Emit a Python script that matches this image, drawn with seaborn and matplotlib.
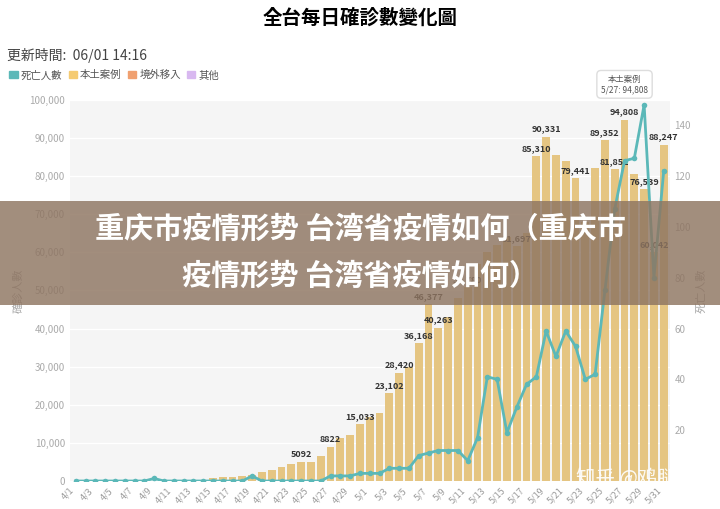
import matplotlib.pyplot as plt
import seaborn as sns
import pandas as pd
from matplotlib import font_manager
from matplotlib.patches import Patch, Rectangle

cjk = [f.name for f in font_manager.fontManager.ttflist if 'CJK' in f.name and 'Sans' in f.name]
tc = next((n for n in cjk if 'TC' in n), cjk[0] if cjk else 'DejaVu Sans')
sc = next((n for n in cjk if 'SC' in n), tc)
plt.rcParams['font.family'] = [tc, 'DejaVu Sans']

# --- data ---
dates = [f'4/{d}' for d in range(1, 31)] + [f'5/{d}' for d in range(1, 32)]
local_cases = [
    50, 60, 70, 80, 90, 100, 110, 120, 130, 150, 180, 200, 250, 350, 900,
    1000, 1100, 1200, 1500, 2300, 2900, 3600, 4500, 5092, 5100, 6500, 8822, 11300, 12000, 15033,
    16800, 17900, 23102, 28420, 30000, 36168, 46377, 40263, 43000, 48000, 50780,
    57000, 60000, 62000, 64000, 61697, 65000, 85310, 90331, 85500, 84000, 79441,
    68000, 82000, 89352, 81852, 94808, 80500, 76539, 60042, 88247,
]
deaths = [
    0, 0, 0, 0, 0, 0, 0, 0, 1, 0, 0, 0, 0, 0, 0,
    0, 0, 0, 2, 0, 0, 0, 0, 0, 0, 0, 2, 2, 2, 3,
    3, 3, 5, 5, 5, 10, 11, 12, 12, 12, 8,
    17, 41, 40, 19, 29, 38, 41, 59, 49, 59, 53,
    40, 42, 75, 107, 126, 127, 148, 80, 122,
]
labelled = {'4/24': 5092, '4/27': 8822, '4/30': 15033, '5/3': 23102, '5/4': 28420,
            '5/6': 36168, '5/7': 46377, '5/8': 40263, '5/11': 50780, '5/16': 61697,
            '5/18': 85310, '5/19': 90331, '5/22': 79441, '5/25': 89352, '5/26': 81852,
            '5/27': 94808, '5/29': 76539, '5/30': 60042, '5/31': 88247}

df = pd.DataFrame({'date': dates, 'local': local_cases, 'deaths': deaths})
df['x'] = range(len(df))

BAR = '#F5CB72'
LINE = '#5BB8B8'

fig = plt.figure(figsize=(7.2, 5.09), dpi=100)
ax = fig.add_axes([0.097, 0.055, 0.833, 0.749])
ax.set_facecolor('#F5F5F5')
sns.barplot(data=df, x='x', y='local', color=BAR, width=0.8, ax=ax, zorder=2)
ax.set_ylim(0, 100000)
ax.set_xlim(-0.6, len(df) - 0.4)
ax.set_yticks(range(0, 100001, 10000))
ax.set_yticklabels([f'{v:,}' for v in range(0, 100001, 10000)], color='#AAAAAA', fontsize=7)
ax.grid(axis='y', color='white', lw=1, zorder=1)
ax.set_xticks(df['x'][::2])
ax.set_xticklabels(df['date'][::2], rotation=45, ha='right', fontsize=6.5, color='#999999')
ax.set_xlabel('')
ax.set_ylabel('確診人數', color='#AAAAAA', fontsize=8)
for s in ax.spines.values():
    s.set_visible(False)
ax.tick_params(length=0)
for d, v in labelled.items():
    i = dates.index(d)
    ax.text(i, v + 800, f'{v:,}' if v >= 10000 else str(v), ha='center', va='bottom',
            fontsize=6.5, fontweight='bold', color='#333333', zorder=5)

ax2 = ax.twinx()
sns.lineplot(data=df, x='x', y='deaths', color=LINE, lw=2, marker='o', markersize=4,
             markeredgewidth=0, ax=ax2, zorder=4)
ax2.set_ylim(0, 150)
ax2.set_yticks(range(20, 141, 20))
ax2.set_yticklabels(range(20, 141, 20), color='#AAAAAA', fontsize=7)
ax2.set_ylabel('死亡人數', color='#AAAAAA', fontsize=8)
ax2.tick_params(length=0)
for s in ax2.spines.values():
    s.set_visible(False)

# tooltip
ax.text(56, 101500, '本土案例\n5/27: 94,808', ha='center', va='bottom', fontsize=6,
        color='#555555', bbox=dict(boxstyle='round,pad=0.5', fc='white', ec='#DDDDDD'),
        clip_on=False, zorder=6)

fig.text(0.5, 0.965, '全台每日確診數變化圖', ha='center', va='center', fontsize=14, fontweight='bold')
fig.text(0.01, 0.89, '更新時間:  06/01 14:16', ha='left', va='center', fontsize=10, color='#444444')
handles = [Patch(color=LINE, label='死亡人數'), Patch(color=BAR, label='本土案例'),
           Patch(color='#F0A070', label='境外移入'), Patch(color='#D8B8F0', label='其他')]
fig.legend(handles=handles, loc='center left', bbox_to_anchor=(0.0, 0.852), ncol=4, frameon=False,
           fontsize=7.5, handlelength=0.8, handletextpad=0.3, columnspacing=0.6, labelcolor='#555555')

# overlay banner
fig.patches.append(Rectangle((0, 0.40), 1, 0.205, transform=fig.transFigure,
                             facecolor='#8E7561', alpha=0.82, zorder=10))
fig.text(0.5, 0.55, '重庆市疫情形势 台湾省疫情如何（重庆市', ha='center', va='center', fontsize=21,
         fontweight='bold', color='white', family=sc, zorder=11)
fig.text(0.5, 0.458, '疫情形势 台湾省疫情如何）', ha='center', va='center', fontsize=21,
         fontweight='bold', color='white', family=sc, zorder=11)
fig.text(0.94, 0.06, '知乎 @鸡腿', ha='right', va='center', fontsize=14, color='white',
         alpha=0.9, family=sc, zorder=11)

fig.savefig('out.png', dpi=100)
